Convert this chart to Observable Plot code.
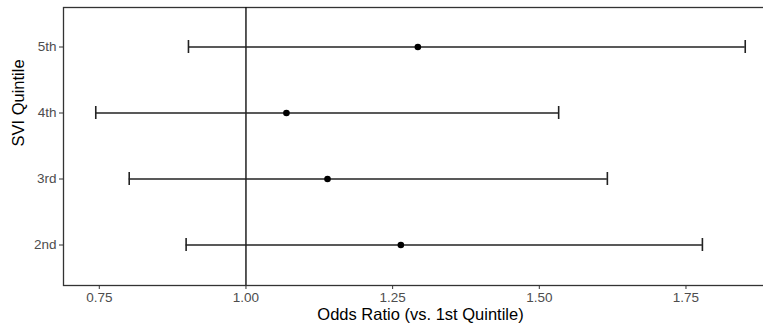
<!DOCTYPE html>
<html>
<head>
<meta charset="utf-8">
<script src="https://cdn.jsdelivr.net/npm/d3@7"></script>
<script src="https://cdn.jsdelivr.net/npm/@observablehq/plot@0.6"></script>
<style>
  html, body { margin: 0; padding: 0; background: #fff; overflow: hidden; }
</style>
</head>
<body>
<div id="chart"></div>
<script>
const quintiles = ["5th", "4th", "3rd", "2nd"];
const oddsRatio = [1.293, 1.069, 1.139, 1.264];
const lowerCI = [0.902, 0.744, 0.801, 0.898];
const upperCI = [1.851, 1.533, 1.616, 1.778];
const xTicks = [0.75, 1.00, 1.25, 1.50, 1.75];
const referenceOR = [1];
const xTitle = "Odds Ratio (vs. 1st Quintile)";
const yTitle = "SVI Quintile";

const data = quintiles.map((q, i) => ({q, or: oddsRatio[i], lo: lowerCI[i], hi: upperCI[i]}));

const chart = Plot.plot({
  width: 763,
  height: 331,
  marginLeft: 63,
  marginRight: -14,
  marginTop: 7,
  marginBottom: 46,
  style: {fontFamily: "'Liberation Sans', Arial, sans-serif", fontSize: "13px", color: "#4d4d4d", background: "#fff"},
  x: {domain: [0.689, 1.906], label: null},
  y: {type: "band", domain: quintiles, paddingInner: 0.8, paddingOuter: 0.5, label: null},
  marks: [
    Plot.axisX({ticks: xTicks, tickFormat: d3.format(".2f"), tickSize: 4, tickPadding: 3, fontSize: 13.5, label: null, stroke: "#333", fill: "#4d4d4d"}),
    Plot.axisY({tickSize: 4, tickPadding: 3, fontSize: 13.5, label: null, stroke: "#333", fill: "#4d4d4d"}),
    Plot.frame({stroke: "#333", strokeWidth: 1.3}),
    Plot.ruleX(referenceOR, {stroke: "#111", strokeWidth: 1.4}),
    Plot.ruleY(data, {y: "q", x1: "lo", x2: "hi", stroke: "#222", strokeWidth: 1.6}),
    Plot.tickX(data, {x: "lo", y: "q", stroke: "#222", strokeWidth: 1.6}),
    Plot.tickX(data, {x: "hi", y: "q", stroke: "#222", strokeWidth: 1.6}),
    Plot.dot(data, {x: "or", y: "q", r: 3.3, fill: "#000", stroke: "none"}),
    Plot.text([yTitle], {frameAnchor: "left", rotate: -90, dx: -45, fill: "#000", fontSize: 16.5}),
    Plot.text([xTitle], {frameAnchor: "bottom", dy: 34, fill: "#000", fontSize: 16.5})
  ]
});
document.getElementById("chart").appendChild(chart);
</script>
</body>
</html>
